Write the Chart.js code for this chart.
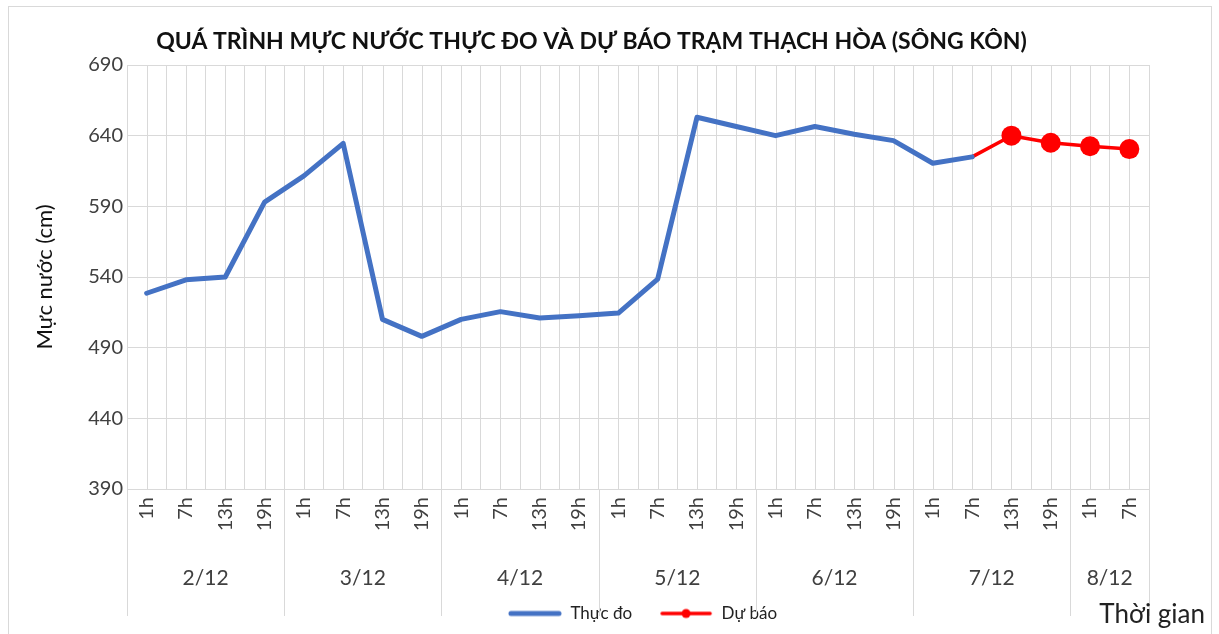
<!DOCTYPE html>
<html>
<head>
<meta charset="utf-8">
<script src="https://cdn.jsdelivr.net/npm/chart.js@4.4.1/dist/chart.umd.min.js"></script>
<style>
html,body{margin:0;padding:0;background:#fff;}
canvas{display:block;}
</style>
</head>
<body>
<canvas id="c" width="1219" height="634"></canvas>
<script>
// ---- data ----
const hourLabels = ['1h','7h','13h','19h','1h','7h','13h','19h','1h','7h','13h','19h','1h','7h','13h','19h','1h','7h','13h','19h','1h','7h','13h','19h','1h','7h'];
const dateLabels = ['2/12','3/12','4/12','5/12','6/12','7/12','8/12'];
const dateSizes = [4,4,4,4,4,4,2];
const measured = [528.5,538,540,593,611.5,634.5,510,498,510,515.5,511,512.5,514.5,538.5,653,646.5,640,646.5,641,636.5,620.5,625,null,null,null,null];
const forecast = [null,null,null,null,null,null,null,null,null,null,null,null,null,null,null,null,null,null,null,null,null,625,640,635,632.5,630.5];
const yTicks = [390,440,490,540,590,640,690];

const FONT = "Lato, 'Noto Sans', 'Liberation Sans', sans-serif";
const GRID = '#d9d9d9';
const TXT = '#404040';

function legendIcon(color, width, marker){
  const c = document.createElement('canvas');
  c.width = 54; c.height = 14;
  const g = c.getContext('2d');
  g.strokeStyle = color; g.lineWidth = width; g.lineCap = 'round';
  g.beginPath(); g.moveTo(3,7); g.lineTo(51,7); g.stroke();
  if (marker){ g.fillStyle = color; g.beginPath(); g.arc(27,7,4.5,0,Math.PI*2); g.fill(); }
  return c;
}
const iconMeasured = legendIcon('#4472C4',5,false);
const iconForecast = legendIcon('#FF0000',3.5,true);

const extras = {
  id:'extras',
  afterLayout(chart){
    const lg = chart.legend;
    if (lg){ lg.left += 51; lg.right += 51; lg.top += 2; lg.bottom += 2; }
  },
  beforeDraw(chart){
    const ctx = chart.ctx;
    ctx.save();
    ctx.fillStyle='#fff'; ctx.fillRect(0,0,chart.width,chart.height);
    ctx.strokeStyle='#d9d9d9'; ctx.lineWidth=1;
    ctx.strokeRect(8.5,6.5,1203,640);
    ctx.restore();
  },
  beforeDatasetsDraw(chart){
    const ctx = chart.ctx, xs = chart.scales.x, a = chart.chartArea;
    ctx.save();
    ctx.strokeStyle = GRID; ctx.lineWidth = 1;
    for (let i=0;i<hourLabels.length;i++){
      const x = Math.round(xs.getPixelForValue(i))+0.5;
      ctx.beginPath(); ctx.moveTo(x,a.top); ctx.lineTo(x,a.bottom); ctx.stroke();
    }
    ctx.restore();
  },
  afterDraw(chart){
    const ctx = chart.ctx, xs = chart.scales.x, a = chart.chartArea;
    const half = (xs.getPixelForValue(1)-xs.getPixelForValue(0))/2;
    ctx.save();
    ctx.strokeStyle = GRID; ctx.lineWidth = 1;
    let start = 0;
    const bounds = [0];
    dateSizes.forEach(n=>{ start += n; bounds.push(start); });
    bounds.forEach(b=>{
      const x = Math.round(xs.getPixelForValue(b) - half)+0.5;
      ctx.beginPath(); ctx.moveTo(x,a.bottom); ctx.lineTo(x,616); ctx.stroke();
    });
    ctx.fillStyle = TXT;
    ctx.font = "21px " + FONT;
    ctx.textAlign = 'center'; ctx.textBaseline = 'middle';
    for (let g=0; g<dateLabels.length; g++){
      const x0 = xs.getPixelForValue(bounds[g]) - half;
      const x1 = xs.getPixelForValue(bounds[g+1]) - half;
      ctx.fillText(dateLabels[g], (x0+x1)/2, 578);
    }
    ctx.fillStyle = '#222';
    ctx.font = "26px " + FONT;
    ctx.textAlign = 'right';
    ctx.fillText('Thời gian', 1205, 615);
    ctx.restore();
  }
};

new Chart(document.getElementById('c'), {
  type:'line',
  data:{
    labels: hourLabels,
    datasets:[
      {label:'Thực đo', data: measured, borderColor:'#4472C4', backgroundColor:'#4472C4', borderWidth:5,
       pointRadius:0, pointHoverRadius:0, tension:0, borderJoinStyle:'round', borderCapStyle:'round', spanGaps:false},
      {label:'Dự báo', data: forecast, borderColor:'#FF0000', backgroundColor:'#FF0000', borderWidth:3.5,
       pointRadius: ctx => ctx.dataIndex === 21 ? 0 : 10, pointBackgroundColor:'#FF0000', pointBorderWidth:0,
       tension:0, borderJoinStyle:'round', spanGaps:false}
    ]
  },
  options:{
    responsive:false,
    animation:false,
    devicePixelRatio:1,
    layout:{padding:{left:34,right:70,top:0,bottom:4}},
    plugins:{
      title:{display:true, text:'QUÁ TRÌNH MỰC NƯỚC THỰC ĐO VÀ DỰ BÁO TRẠM THẠCH HÒA (SÔNG KÔN)',
        color:'#111', font:{family:FONT, size:23, weight:'bold'}, padding:{top:28, bottom:9.4}},
      legend:{display:true, position:'bottom',
        labels:{usePointStyle:true, pointStyleWidth:54, boxHeight:14, padding:27, color:'#222',
          font:{family:FONT, size:17},
          generateLabels(chart){
            return chart.data.datasets.map((d,i)=>({text:d.label, pointStyle: i===0?iconMeasured:iconForecast,
              fillStyle:d.borderColor, strokeStyle:d.borderColor, lineWidth:0, hidden:false, datasetIndex:i, fontColor:'#222'}));
          }}},
      tooltip:{enabled:false}
    },
    scales:{
      x:{
        offset:true,
        grid:{display:true, offset:true, color:GRID, drawTicks:false},
        border:{display:true, color:GRID},
        ticks:{minRotation:90, maxRotation:90, autoSkip:false, padding:8, color:TXT, font:{family:FONT, size:20}},
        afterFit(scale){ scale.height = 87; }
      },
      y:{
        min:390, max:690,
        afterBuildTicks(scale){ scale.ticks = yTicks.map(v=>({value:v})); },
        grid:{color:GRID, drawTicks:false},
        border:{display:true, color:GRID},
        ticks:{padding:4, color:TXT, font:{family:FONT, size:20}},
        title:{display:true, text:'Mực nước (cm)', color:'#111', font:{family:FONT, size:22}, padding:{top:-2,bottom:0}},
        afterFit(scale){ scale.width = 93; }
      }
    }
  },
  plugins:[extras]
});
</script>
</body>
</html>
